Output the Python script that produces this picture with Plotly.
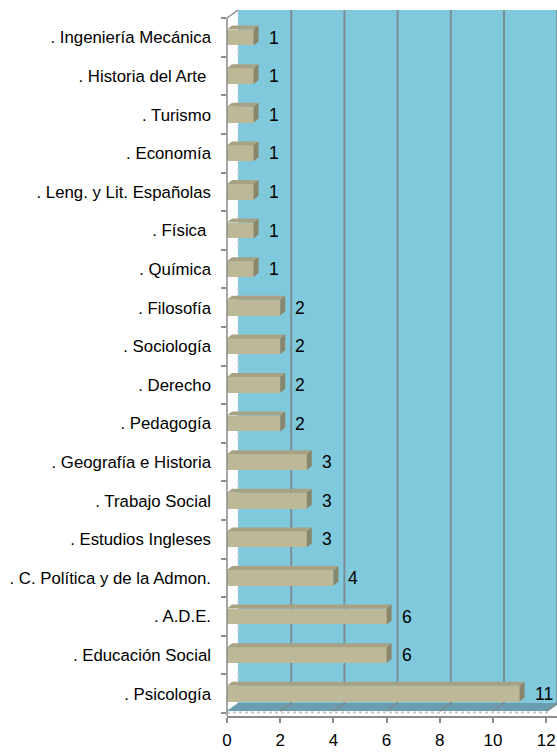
import plotly.graph_objects as go

# Degree programmes (top to bottom as shown) and number of people
carreras = [
    ". Ingeniería Mecánica",
    ". Historia del Arte\u00a0",
    ". Turismo",
    ". Economía",
    ". Leng. y Lit. Españolas",
    ". Física\u00a0",
    ". Química",
    ". Filosofía",
    ". Sociología",
    ". Derecho",
    ". Pedagogía",
    ". Geografía e Historia",
    ". Trabajo Social",
    ". Estudios Ingleses",
    ". C. Política y de la Admon.",
    ". A.D.E.",
    ". Educación Social",
    ". Psicología",
]
valores = [1, 1, 1, 1, 1, 1, 1, 2, 2, 2, 2, 3, 3, 3, 4, 6, 6, 11]
x_ticks = [0, 2, 4, 6, 8, 10, 12]

# bottom-up order for a numeric y axis
cats = carreras[::-1]
vals = valores[::-1]
ypos = list(range(len(cats)))

W, H = 557, 753
L, R, T, B = 227, 0, 10, 37
PW, PH = W - L - R, H - T - B
UX = 26.6                       # px per x unit
UY = 38.6                       # px per category
xmax = PW / UX
ylo = -0.5 - 3 / UY
yhi = ylo + PH / UY

DX, DY = 11, 8                  # depth of the back wall (px)


def px(x):
    return (x - L) / PW


def py(y):
    return (H - B - y) / PH


FONT = "Liberation Sans, Arial, sans-serif"
GRID = "#7B8E96"
AXIS = "#8C8C8C"

fig = go.Figure()

fig.add_trace(go.Bar(
    x=vals, y=ypos, orientation="h",
    width=0.41,
    marker=dict(color="#BCB898", line=dict(width=0)),
    hoverinfo="x+y",
))

shapes = []
# back wall
shapes.append(dict(type="rect", xref="paper", yref="paper",
                   x0=px(L + DX), x1=1, y0=py(703), y1=1,
                   fillcolor="#80C9DD", line=dict(width=0), layer="below"))
# left side wall
shapes.append(dict(type="path", xref="paper", yref="paper",
                   path=f"M{px(L)},{py(711)} L{px(L + DX)},{py(703)} L{px(L + DX)},{py(10)} L{px(L)},{py(18)} Z",
                   fillcolor="#FFFFFF", line=dict(color="#C8C8C8", width=1, dash="dot"), layer="below"))
# floor
x12 = L + 12 * UX
shapes.append(dict(type="path", xref="paper", yref="paper",
                   path=f"M{px(L)},{py(711)} L{px(L + DX)},{py(703)} L{px(W)},{py(703)} L{px(W)},{py(705)} L{px(x12 + 2)},{py(711)} Z",
                   fillcolor="#6B9DB1", line=dict(width=0), layer="below"))
shapes.append(dict(type="line", xref="paper", yref="paper",
                   x0=px(L), x1=px(x12 + 2), y0=py(712.5), y1=py(712.5),
                   line=dict(color="#C8C8C8", width=2, dash="dot"), layer="below"))
# gridlines on the back wall, bending across the floor
for v in x_ticks[1:]:
    xf = L + v * UX
    xb = xf + DX
    shapes.append(dict(type="path", xref="paper", yref="paper",
                       path=f"M{px(xb)},{py(10)} L{px(xb)},{py(703)} L{px(xf)},{py(711)}",
                       line=dict(color=GRID, width=2), layer="below"))
# top-left wall edge and front vertical axis line
shapes.append(dict(type="line", xref="paper", yref="paper",
                   x0=px(L), y0=py(18), x1=px(L + DX), y1=py(10),
                   line=dict(color=AXIS, width=1.5), layer="below"))
shapes.append(dict(type="line", xref="paper", yref="paper",
                   x0=px(L), y0=py(18), x1=px(L), y1=py(716),
                   line=dict(color=AXIS, width=1.5), layer="above"))

# 3D faces of each bar (top and right side), in data units
ddx = 5 / UX
ddy = 4 / UY
hw = 0.41 / 2
for v, y in zip(vals, ypos):
    top = (f"M0,{y + hw} L{v},{y + hw} L{v + ddx},{y + hw + ddy} "
           f"L{ddx},{y + hw + ddy} Z")
    shapes.append(dict(type="path", xref="x", yref="y", path=top,
                       fillcolor="#A7A283", line=dict(width=0), layer="above"))
    side = (f"M{v},{y - hw} L{v},{y + hw} L{v + ddx},{y + hw + ddy} "
            f"L{v + ddx},{y - hw + ddy} Z")
    shapes.append(dict(type="path", xref="x", yref="y", path=side,
                       fillcolor="#8A866C", line=dict(width=0), layer="above"))

annotations = []
for v, y in zip(vals, ypos):
    annotations.append(dict(x=v, y=y, xref="x", yref="y", text=str(v),
                            showarrow=False, xanchor="left", yanchor="middle",
                            xshift=13, font=dict(family=FONT, size=17.5, color="#000000")))

fig.update_layout(
    width=W, height=H,
    margin=dict(l=L, r=R, t=T, b=B, pad=0),
    paper_bgcolor="white", plot_bgcolor="rgba(0,0,0,0)",
    showlegend=False,
    bargap=0,
    shapes=shapes,
    annotations=annotations,
    xaxis=dict(range=[0, xmax], tickmode="array", tickvals=x_ticks,
               ticktext=[str(t) for t in x_ticks],
               showgrid=False, zeroline=False, automargin=False,
               showline=True, linecolor=AXIS, linewidth=1.5,
               ticks="outside", ticklen=5, tickcolor=AXIS, tickwidth=1.5,
               ticklabelstandoff=3, ticklabeloverflow="allow",
               tickfont=dict(family=FONT, size=17, color="#000000")),
    yaxis=dict(range=[ylo, yhi], tickmode="array", tickvals=ypos, ticktext=cats,
               showgrid=False, zeroline=False, showline=False, automargin=False,
               ticks="", ticklabelstandoff=15, ticklabeloverflow="allow",
               minor=dict(tickmode="array", tickvals=[i - 0.5 for i in range(len(cats) + 1)],
                          ticks="outside", ticklen=5, tickcolor=AXIS, tickwidth=1.5,
                          showgrid=False),
               tickfont=dict(family=FONT, size=16.8, color="#000000")),
)

fig.write_html("out.html")
